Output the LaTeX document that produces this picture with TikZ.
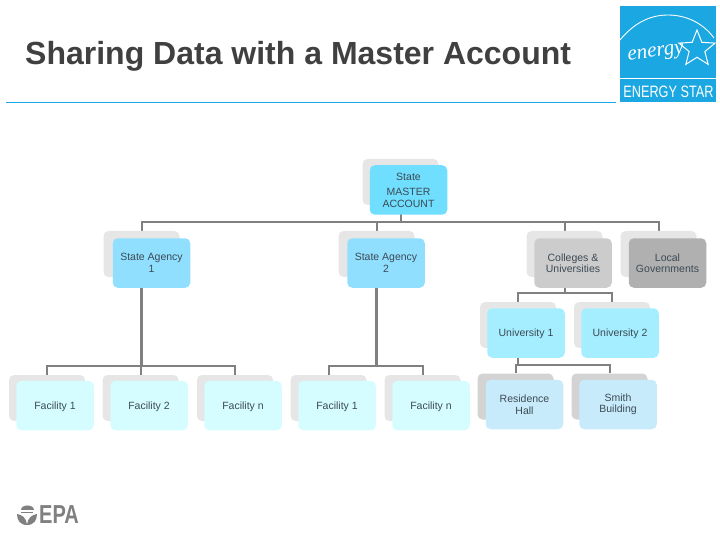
\documentclass[tikz,border=0pt]{standalone}
\usepackage{xcolor}
\usepackage{fontspec}
\setmainfont{Liberation Sans}
\newfontfamily\starwordfont{Liberation Serif}
\usepackage{tikz}
\usetikzlibrary{backgrounds, shapes.geometric}
\definecolor{linegray}{HTML}{808080}
\definecolor{textslate}{HTML}{3C4A54}
\definecolor{starblue}{HTML}{1BA7E2}
\definecolor{masterfill}{HTML}{70DEFF}
\definecolor{agencyfill}{HTML}{90DFFF}
\definecolor{collegefill}{HTML}{CCCCCC}
\definecolor{localfill}{HTML}{B0B0B0}
\definecolor{unifill}{HTML}{A5EEFF}
\definecolor{facilityfill}{HTML}{D5FDFF}
\definecolor{buildingfill}{HTML}{C8EBFB}
\definecolor{backlight}{HTML}{E6E6E6}
\definecolor{backdark}{HTML}{D3D3D3}
\tikzset{
  backbox/.style={
    rounded corners=5pt, fill=#1, inner sep=0pt,
    minimum width=76pt, minimum height=46pt
  },
  backbox/.default=backlight,
  frontbox/.style={
    rounded corners=5pt, fill=#1, inner sep=0pt, align=center,
    minimum width=77.5pt, minimum height=49.5pt,
    font=\fontsize{10.5}{11.5}\selectfont, text=textslate
  },
  singleline/.style={text depth=0pt},
  orgline/.style={draw=linegray, line width=2pt},
  orgtrunk/.style={draw=linegray, line width=2.8pt},
}

\begin{document}
\begin{tikzpicture}[x=1pt, y=-1pt]
  \useasboundingbox (0,0) rectangle (720,540);

  % Title
  \node[font=\bfseries\fontsize{32}{34}\selectfont, text=black!75, anchor=west, inner sep=0pt] (title) at (25, 56)
    {Sharing Data with a Master Account};
  \coordinate (ruleleft) at (6, 102);
  \coordinate (ruleright) at (616, 102);
  \draw[starblue, line width=0.8pt] (ruleleft) -- (ruleright);

  % ---- Energy Star mark ----
  \node[fill=starblue, minimum width=96pt, minimum height=96pt, inner sep=0pt] (starmark) at (668, 54) {};
  \draw[white, line width=1pt] (620, 79) -- (716, 79);
  \draw[white, line width=0.9pt] (620, 40) .. controls (634, 23) and (650, 15) .. (668, 15)
    .. controls (686, 15) and (703, 23) .. (714, 38);
  \node[fill=starblue, star, star points=5, star point ratio=2.3, draw=white, line width=1pt,
    minimum size=38pt, inner sep=0pt] (starshape) at (697, 49) {};
  \node[font=\starwordfont\itshape\fontsize{21}{21}\selectfont, text=white, rotate=8, inner sep=0pt] (energyword) at (656, 54)
    {energy};
  \node[font=\fontsize{16.5}{17}\selectfont, text=white, xscale=0.77, transform shape, inner sep=0pt] (starname) at (668.5, 92)
    {ENERGY STAR};

  % ---- Boxes ----
  \node[backbox] (masterback) at (400.5, 182) {};
  \node[frontbox=masterfill] (master) at (408.5, 190)
    {State\\[4pt]MASTER\\ACCOUNT};

  \node[backbox] (agencyoneback) at (141.5, 254) {};
  \node[frontbox=agencyfill] (agencyone) at (151.5, 263)
    {State Agency\\1};
  \node[backbox] (agencytwoback) at (376.5, 254) {};
  \node[frontbox=agencyfill] (agencytwo) at (386, 263)
    {State Agency\\2};
  \node[backbox] (collegesback) at (564.5, 254) {};
  \node[frontbox=collegefill] (colleges) at (573, 263)
    {Colleges \&\\Universities};
  \node[backbox] (localback) at (658.5, 254) {};
  \node[frontbox=localfill] (local) at (667.5, 263)
    {Local\\Governments};

  \node[backbox] (unioneback) at (518, 325) {};
  \node[frontbox=unifill, singleline] (unione) at (526, 333)
    {University 1};
  \node[backbox] (unitwoback) at (612, 325) {};
  \node[frontbox=unifill, singleline] (unitwo) at (620, 333)
    {University 2};

  % Facilities under agency 1
  \node[backbox] (facaback) at (47, 398) {};
  \node[frontbox=facilityfill, singleline] (faca) at (55, 405.5)
    {Facility 1};
  \node[backbox] (facbback) at (140.5, 398) {};
  \node[frontbox=facilityfill, singleline] (facb) at (149, 405.5)
    {Facility 2};
  \node[backbox] (faccback) at (235, 398) {};
  \node[frontbox=facilityfill, singleline] (facc) at (243, 405.5)
    {Facility n};

  % Facilities under agency 2
  \node[backbox] (facdback) at (328.5, 398) {};
  \node[frontbox=facilityfill, singleline] (facd) at (337, 405.5)
    {Facility 1};
  \node[backbox] (faceback) at (422.5, 398) {};
  \node[frontbox=facilityfill, singleline] (face) at (431, 405.5)
    {Facility n};

  % Buildings under university 1
  \node[backbox=backdark] (residenceback) at (515.5, 396.5) {};
  \node[frontbox=buildingfill] (residence) at (524.5, 404.5)
    {Residence\\Hall};
  \node[backbox=backdark] (smithback) at (609.5, 396.5) {};
  \node[frontbox=buildingfill] (smith) at (618, 404.5)
    {Smith\\Building};

  % ---- Connectors ----
  \begin{scope}[on background layer]
    \coordinate (busmaster) at (400.5, 222);
    \draw[orgline] (masterback.south) -- (busmaster);
    \draw[orgline] (busmaster) -| (agencyoneback.north);
    \draw[orgline] (busmaster) -| (agencytwoback.north);
    \draw[orgline] (busmaster) -| (collegesback.north);
    \draw[orgline] (busmaster) -| (localback.north);

    \coordinate (busagencyone) at (141.5, 366);
    \draw[orgtrunk] (agencyoneback.south) -- (busagencyone);
    \draw[orgline] (busagencyone) -| (facaback.north);
    \draw[orgline] (busagencyone) -| (facbback.north);
    \draw[orgline] (busagencyone) -| (faccback.north);

    \coordinate (busagencytwo) at (376.5, 366);
    \draw[orgtrunk] (agencytwoback.south) -- (busagencytwo);
    \draw[orgline] (busagencytwo) -| (facdback.north);
    \draw[orgline] (busagencytwo) -| (faceback.north);

    \coordinate (buscolleges) at (564.5, 293);
    \draw[orgline] (collegesback.south) -- (buscolleges);
    \draw[orgline] (buscolleges) -| (unioneback.north);
    \draw[orgline] (buscolleges) -| (unitwoback.north);

    \coordinate (busuni) at (518, 365);
    \draw[orgline] (unioneback.south) -- (busuni);
    \draw[orgline] (busuni) -| (residenceback.north);
    \draw[orgline] (busuni) -| (smithback.north);
  \end{scope}

  % ---- EPA mark ----
  \fill[linegray] (20.5, 510) .. controls (20.5, 503.5) and (33.5, 503.5) .. (33.5, 510) -- cycle;
  \fill[linegray] (21, 511.5) rectangle (33, 513);
  \fill[linegray] (17, 514) .. controls (22, 515) and (26, 517) .. (27, 525)
    .. controls (20, 525) and (17, 520) .. (17, 514) -- cycle;
  \fill[linegray] (37, 514) .. controls (32, 515) and (28, 517) .. (27, 525)
    .. controls (34, 525) and (37, 520) .. (37, 514) -- cycle;
  \node[font=\bfseries\fontsize{26}{26}\selectfont, text=linegray, xscale=0.77, transform shape, inner sep=0pt] (epaword) at (59, 514.5)
    {EPA};
\end{tikzpicture}
\end{document}
